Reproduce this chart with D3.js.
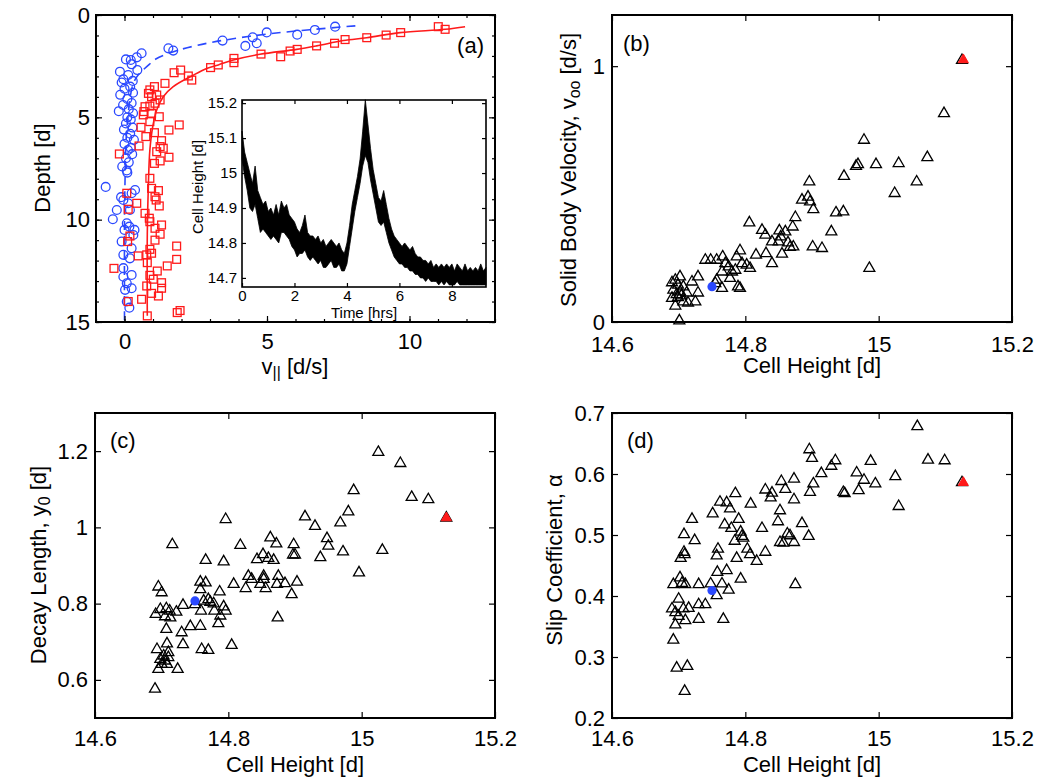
<!DOCTYPE html>
<html>
<head>
<meta charset="utf-8">
<script src="https://cdn.jsdelivr.net/npm/d3@7"></script>
<style>
  body { margin: 0; background: #fff; }
  text { font-family: "Liberation Sans", Arial, Helvetica, sans-serif; fill: #000; }
</style>
</head>
<body>
<div id="chart"></div>
<script>
// ---------- data ----------

// panel (a): velocity profiles, v_|| [d/s] against depth [d]
const blueV = [7.39, 6.68, 6.06, 4.99, 4.50, 4.64, 4.24, 3.44, 1.71, 1.54, 0.60, 0.43, 0.22, 0.05, 0.25, 0.45, -0.16, 0.13, -0.04, 0.29,
  -0.10, 0.20, 0.00, 0.30, -0.15, 0.10, 0.25, -0.05, 0.15, -0.20, 0.30, 0.10, 0.22, 0.05, 0.28, -0.02, 0.20, 0.10, 0.33, 0.00, 0.22, 0.12, 0.27, 0.05, 0.15, -0.08, 0.10,
  -0.66, -0.04, -0.41, -0.27, 0.13, 0.25, 0.19, 0.08, 0.17, 0.31, -0.10, 0.25, -0.04, 0.19, -0.04, 0.25, -0.04, 0.08, 0.25, 0.02, 0.08, 0.17, 0.37, 0.08, -0.12, 0.00, 0.35];
const blueD = [0.57, 0.73, 0.96, 0.85, 1.09, 1.38, 1.51, 1.25, 1.74, 1.63, 1.87, 2.07, 2.20, 2.17, 2.41, 2.69, 2.77, 2.93, 3.14, 3.22,
  3.30, 3.50, 3.60, 3.80, 3.90, 4.10, 4.30, 4.40, 4.60, 4.70, 4.80, 5.00, 5.10, 5.30, 5.50, 5.60, 5.80, 6.00, 6.10, 6.30, 6.50, 6.60, 6.80, 7.00, 7.20, 7.40, 7.70,
  8.40, 9.04, 9.98, 9.53, 9.20, 8.71, 9.53, 10.18, 10.34, 10.75, 11.07, 11.40, 11.72, 11.89, 12.37, 12.70, 12.79, 13.11, 13.35, 13.43, 14.00, 14.30, 8.55, 7.60, 8.90, 10.50, 10.50];

const redV = [11.25, 11.01, 9.69, 9.18, 8.50, 7.74, 7.37, 6.74, 6.06, 5.81, 5.48, 4.79, 3.84, 3.84, 3.29, 3.02, 2.36, 2.24, 1.97, 1.74,
  1.42, 1.05, 0.89, 1.13, 0.95, 0.84, 1.25, 1.07, 0.72, 0.89, 0.68, 0.95, 1.22, 0.66, 0.89, 1.92, 0.58, 1.56, 1.05, 0.75,
  0.51, 1.30, 1.25, 1.13, 1.36, 1.56, 1.25, 1.05, -0.18, 0.89, 0.95, 1.19, 1.07, 0.08, 1.11, 0.43, 1.22, 0.13, 0.72, 0.87,
  0.89, 1.30, 1.07, 1.25, 0.19, 1.07, 0.11, 1.83, 0.89, 0.95, 0.48, 0.78, 1.83, 0.80, -0.37, 1.50, 1.15, 0.89, 1.01, 1.30,
  0.78, 1.30, 0.95, 0.60, 1.19, 0.13, 1.85, 1.95, 0.80];
const redD = [0.70, 0.57, 0.86, 0.98, 1.11, 1.20, 1.38, 1.51, 1.68, 1.76, 2.04, 1.91, 2.33, 2.12, 2.44, 2.57, 3.18, 2.98, 2.69, 2.82,
  3.34, 3.50, 3.66, 3.91, 3.99, 3.83, 4.15, 4.31, 4.48, 4.45, 4.72, 4.80, 4.97, 4.88, 5.21, 5.37, 5.49, 5.62, 5.75, 5.94,
  6.40, 6.14, 6.43, 6.68, 6.51, 6.95, 7.13, 7.25, 6.79, 7.98, 8.47, 8.58, 8.88, 8.71, 9.04, 9.20, 9.33, 9.49, 9.69, 9.93,
  10.10, 10.26, 10.42, 10.71, 10.80, 11.00, 11.07, 11.29, 11.45, 11.64, 11.77, 11.72, 11.94, 12.10, 12.38, 12.26, 12.51, 12.72, 12.91, 13.08,
  13.24, 13.35, 13.60, 13.89, 13.73, 14.00, 14.54, 14.44, 14.70];

// fitted profiles
const blueFitV = [8.10, 6.50, 5.00, 4.00, 3.00, 2.20, 1.60, 1.10, 0.80, 0.50, 0.32, 0.20, 0.12, 0.06, 0.02, 0.00, 0.00];
const blueFitD = [0.53, 0.72, 0.93, 1.12, 1.35, 1.60, 1.85, 2.15, 2.50, 2.90, 3.30, 4.00, 5.00, 6.00, 8.00, 10.00, 15.00];
const redFitV = [11.95, 11.25, 9.67, 8.50, 7.68, 6.74, 6.04, 4.75, 3.82, 3.29, 2.88, 2.36, 1.71, 1.36, 1.13, 0.99, 0.89, 0.84, 0.80, 0.80];
const redFitD = [0.57, 0.70, 0.86, 1.11, 1.25, 1.51, 1.68, 1.92, 2.20, 2.44, 2.61, 2.98, 3.50, 3.99, 4.64, 5.46, 6.60, 8.20, 10.70, 14.70];

// inset: cell height [d] vs time [hrs], envelope of the noisy trace every 0.1 hr
const insetStep = 0.1;
const insetUpper = [15.12, 15.06, 15.03, 15.00, 14.97, 15.02, 14.95, 14.93, 14.91, 14.92,
  14.89, 14.90, 14.88, 14.91, 14.88, 14.92, 14.90, 14.91, 14.88, 14.87,
  14.86, 14.84, 14.83, 14.85, 14.88, 14.83, 14.82, 14.82, 14.81, 14.82,
  14.80, 14.81, 14.79, 14.80, 14.81, 14.80, 14.79, 14.80, 14.78, 14.77,
  14.80, 14.85, 14.91, 14.95, 14.99, 15.04, 15.12, 15.21, 15.14, 15.07,
  15.01, 14.97, 14.93, 14.92, 14.95, 14.91, 14.87, 14.84, 14.82, 14.81,
  14.80, 14.79, 14.80, 14.79, 14.78, 14.79, 14.77, 14.76, 14.76, 14.75,
  14.75, 14.74, 14.75, 14.73, 14.74, 14.73, 14.74, 14.73, 14.74, 14.73,
  14.74, 14.72, 14.74, 14.73, 14.72, 14.74, 14.72, 14.73, 14.72, 14.73,
  14.72, 14.74, 14.72, 14.73];
const insetLower = [15.04, 14.99, 14.95, 14.90, 14.89, 14.91, 14.87, 14.83, 14.84, 14.83,
  14.82, 14.81, 14.82, 14.81, 14.80, 14.83, 14.83, 14.82, 14.81, 14.79,
  14.78, 14.76, 14.77, 14.77, 14.78, 14.76, 14.75, 14.76, 14.75, 14.74,
  14.75, 14.73, 14.73, 14.74, 14.75, 14.73, 14.73, 14.74, 14.72, 14.72,
  14.74, 14.79, 14.84, 14.89, 14.93, 14.97, 15.02, 15.05, 15.03, 14.98,
  14.94, 14.90, 14.86, 14.85, 14.86, 14.83, 14.80, 14.78, 14.76, 14.75,
  14.74, 14.74, 14.73, 14.73, 14.72, 14.72, 14.71, 14.71, 14.70, 14.70,
  14.69, 14.70, 14.69, 14.69, 14.69, 14.68, 14.69, 14.68, 14.69, 14.68,
  14.68, 14.68, 14.69, 14.68, 14.68, 14.68, 14.68, 14.68, 14.68, 14.68,
  14.68, 14.68, 14.68, 14.68];

// panel (b): solid body velocity vs cell height
const heightB = [15.125, 15.098, 14.978, 15.073, 14.969, 14.966, 14.996, 15.030, 15.057, 14.948, 15.024, 14.896, 14.885, 14.894, 14.897, 14.902,
  14.936, 14.947, 14.875, 14.871, 14.929, 14.806, 14.825, 14.830, 14.851, 14.860, 14.853, 14.840, 14.850, 14.864, 14.872, 14.867,
  14.901, 14.915, 14.855, 14.831, 14.816, 14.840, 14.792, 14.787, 14.795, 14.802, 14.807, 14.986, 14.766, 14.770, 14.775, 14.765,
  14.780, 14.785, 14.777, 14.740, 14.748, 14.757, 14.789, 14.792, 14.757, 14.755, 14.765, 14.729, 14.720, 14.702, 14.695, 14.690,
  14.699, 14.707, 14.692, 14.702, 14.712, 14.729, 14.690, 14.699, 14.707, 14.714, 14.725, 14.695, 14.701, 14.697, 14.704];
const velB = [1.023, 0.815, 0.711, 0.643, 0.616, 0.609, 0.616, 0.620, 0.548, 0.570, 0.503, 0.548, 0.477, 0.489, 0.470, 0.440,
  0.427, 0.431, 0.409, 0.372, 0.353, 0.388, 0.359, 0.340, 0.357, 0.353, 0.333, 0.314, 0.314, 0.310, 0.294, 0.292,
  0.294, 0.288, 0.266, 0.268, 0.262, 0.229, 0.279, 0.255, 0.229, 0.223, 0.210, 0.210, 0.255, 0.229, 0.216, 0.196,
  0.196, 0.203, 0.171, 0.242, 0.242, 0.242, 0.138, 0.132, 0.164, 0.151, 0.132, 0.177, 0.157, 0.177, 0.164, 0.154,
  0.145, 0.138, 0.125, 0.118, 0.114, 0.114, 0.093, 0.096, 0.079, 0.075, 0.079, 0.063, 0.005, 0.108, 0.103];

// panel (c): decay length vs cell height
const heightC = [15.127, 15.025, 15.058, 14.988, 15.075, 15.100, 14.980, 14.968, 14.915, 14.930, 14.796, 14.716, 14.818, 14.863, 14.872, 14.898,
  14.897, 14.900, 14.948, 14.950, 14.972, 15.031, 14.938, 14.996, 14.843, 14.852, 14.860, 14.868, 14.766, 14.793, 14.830, 14.835,
  14.826, 14.853, 14.853, 14.848, 14.856, 14.875, 14.873, 14.885, 14.903, 14.895, 14.808, 14.874, 14.758, 14.766, 14.758, 14.787,
  14.750, 14.770, 14.773, 14.778, 14.763, 14.759, 14.779, 14.793, 14.796, 14.788, 14.785, 14.695, 14.700, 14.698, 14.691, 14.707,
  14.712, 14.722, 14.732, 14.705, 14.713, 14.743, 14.758, 14.707, 14.730, 14.732, 14.708, 14.693, 14.710, 14.703, 14.698, 14.705,
  14.710, 14.700, 14.708, 14.695, 14.724, 14.690, 14.760, 14.770, 14.805];
const decayC = [1.025, 1.197, 1.168, 1.097, 1.079, 1.073, 1.041, 1.012, 1.028, 1.003, 1.021, 0.955, 0.953, 0.973, 0.957, 0.955,
  0.928, 0.928, 0.971, 0.951, 0.936, 0.940, 0.921, 0.881, 0.916, 0.929, 0.919, 0.914, 0.914, 0.910, 0.872, 0.864,
  0.840, 0.872, 0.864, 0.851, 0.840, 0.872, 0.851, 0.853, 0.857, 0.824, 0.851, 0.763, 0.857, 0.855, 0.837, 0.831,
  0.798, 0.811, 0.804, 0.800, 0.807, 0.781, 0.781, 0.792, 0.781, 0.768, 0.748, 0.844, 0.829, 0.785, 0.772, 0.787,
  0.781, 0.778, 0.796, 0.766, 0.763, 0.740, 0.741, 0.733, 0.724, 0.693, 0.695, 0.680, 0.672, 0.663, 0.654, 0.650,
  0.659, 0.641, 0.641, 0.628, 0.628, 0.576, 0.680, 0.678, 0.691];

// panel (d): slip coefficient vs cell height
const heightD = [15.125, 15.058, 15.074, 15.099, 15.025, 15.030, 14.988, 14.967, 14.978, 14.995, 14.970, 14.947, 14.949, 14.935, 14.929, 14.914,
  14.902, 14.896, 14.900, 14.897, 14.873, 14.854, 14.860, 14.873, 14.830, 14.840, 14.838, 14.852, 14.849, 14.885, 14.895, 14.825,
  14.863, 14.867, 14.852, 14.857, 14.873, 14.830, 14.875, 14.808, 14.785, 14.762, 14.772, 14.777, 14.751, 14.790, 14.769, 14.779,
  14.793, 14.795, 14.784, 14.797, 14.803, 14.807, 14.817, 14.759, 14.757, 14.787, 14.772, 14.758, 14.793, 14.748, 14.765, 14.775,
  14.757, 14.767, 14.720, 14.708, 14.724, 14.708, 14.709, 14.703, 14.702, 14.692, 14.705, 14.710, 14.730, 14.700, 14.690, 14.695,
  14.707, 14.715, 14.730, 14.740, 14.700, 14.695, 14.710, 14.730, 14.692, 14.697, 14.713, 14.709];
const slipD = [0.586, 0.678, 0.623, 0.622, 0.596, 0.547, 0.621, 0.602, 0.590, 0.584, 0.573, 0.570, 0.568, 0.622, 0.613, 0.601,
  0.584, 0.640, 0.626, 0.570, 0.592, 0.588, 0.575, 0.558, 0.574, 0.569, 0.561, 0.540, 0.522, 0.519, 0.498, 0.511,
  0.502, 0.499, 0.488, 0.487, 0.488, 0.472, 0.419, 0.551, 0.568, 0.554, 0.553, 0.543, 0.535, 0.526, 0.517, 0.511,
  0.505, 0.498, 0.490, 0.495, 0.477, 0.468, 0.457, 0.477, 0.466, 0.462, 0.442, 0.439, 0.428, 0.420, 0.420, 0.410,
  0.401, 0.362, 0.526, 0.501, 0.491, 0.472, 0.468, 0.462, 0.430, 0.419, 0.421, 0.419, 0.419, 0.395, 0.379, 0.373,
  0.379, 0.380, 0.386, 0.386, 0.367, 0.353, 0.360, 0.362, 0.328, 0.282, 0.285, 0.244];

// highlighted runs (blue = small cell height, red = large cell height)
const blueRun = { height: 14.750, vel: 0.138, decay: 0.807, slip: 0.409 };
const redRun = { height: 15.127, vel: 1.025, decay: 1.025, slip: 0.586 };

// tick values
const ticksAX = [0, 5, 10], ticksAY = [0, 5, 10, 15];
const minorAX = d3.range(-1, 14), minorAY = d3.range(0, 16);
const ticksInsetX = [0, 2, 4, 6, 8], ticksInsetY = [14.7, 14.8, 14.9, 15, 15.1, 15.2];
const ticksHeight = [14.6, 14.8, 15, 15.2];
const ticksB = [0, 1], ticksC = [0.6, 0.8, 1, 1.2], ticksD = [0.2, 0.3, 0.4, 0.5, 0.6, 0.7];

// ---------- layout ----------
const W = 1038, H = 777;
const BLUE = "#2a48ff", RED = "#ff1a1a";
const FONT = "Liberation Sans, Arial, Helvetica, sans-serif";

const svg = d3.select("#chart").append("svg")
    .attr("width", W)
    .attr("height", H);
svg.append("rect").attr("width", W).attr("height", H).attr("fill", "#fff");

// Draw inward ticks on all 4 sides plus a box
function frame(x, y, opt) {
    const g = svg.append("g");
    const xl = d3.min(x.range()), xr = d3.max(x.range());
    const yb = d3.max(y.range()), yt = d3.min(y.range());
    const tl = opt.tick || 6;

    g.append("g")
        .attr("transform", `translate(0,${yb})`)
        .call(d3.axisBottom(x).tickValues(opt.xt).tickSizeInner(-tl).tickSizeOuter(0).tickPadding(opt.padX).tickFormat(d3.format("")))
        .call(a => a.select(".domain").remove())
        .attr("font-family", FONT).attr("font-size", opt.fs);
    g.append("g")
        .attr("transform", `translate(0,${yt})`)
        .call(d3.axisTop(x).tickValues(opt.xt).tickSizeInner(-tl).tickSizeOuter(0).tickFormat(""))
        .call(a => a.select(".domain").remove());
    g.append("g")
        .attr("transform", `translate(${xl},0)`)
        .call(d3.axisLeft(y).tickValues(opt.yt).tickSizeInner(-tl).tickSizeOuter(0).tickPadding(opt.padY).tickFormat(d3.format("")))
        .call(a => a.select(".domain").remove())
        .attr("font-family", FONT).attr("font-size", opt.fs);
    g.append("g")
        .attr("transform", `translate(${xr},0)`)
        .call(d3.axisRight(y).tickValues(opt.yt).tickSizeInner(-tl).tickSizeOuter(0).tickFormat(""))
        .call(a => a.select(".domain").remove());

    // minor ticks (only panel a)
    if (opt.mx) {
        [[yb, d3.axisBottom], [yt, d3.axisTop]].forEach(([p, ax]) => {
            g.append("g").attr("transform", `translate(0,${p})`)
                .call(ax(x).tickValues(opt.mx).tickSizeInner(-3).tickSizeOuter(0).tickFormat(""))
                .call(a => a.select(".domain").remove());
        });
        [[xl, d3.axisLeft], [xr, d3.axisRight]].forEach(([p, ax]) => {
            g.append("g").attr("transform", `translate(${p},0)`)
                .call(ax(y).tickValues(opt.my).tickSizeInner(-3).tickSizeOuter(0).tickFormat(""))
                .call(a => a.select(".domain").remove());
        });
    }
    g.selectAll(".tick line").attr("stroke", "#000").attr("stroke-width", 1.2);

    g.append("rect")
        .attr("x", xl).attr("y", yt)
        .attr("width", xr - xl).attr("height", yb - yt)
        .attr("fill", "none").attr("stroke", "#000").attr("stroke-width", opt.box || 2);
    return g;
}

// label with a subscript part
function label(x, y, rot, parts, fs) {
    const t = svg.append("text")
        .attr("transform", `translate(${x},${y}) rotate(${rot})`)
        .attr("text-anchor", "middle")
        .attr("font-size", fs);
    parts.forEach(p => {
        const s = t.append("tspan").text(p.t);
        if (p.sub) s.attr("font-size", fs * 0.72).attr("baseline-shift", "-28%");
    });
    return t;
}

// ---------- panel (a) ----------
const xA = d3.scaleLinear().domain([-1, 13]).range([96, 495]);
const yA = d3.scaleLinear().domain([0, 15]).range([15, 322]);

const line = d3.line().curve(d3.curveCatmullRom);

svg.append("path")
    .attr("d", line(blueFitV.map((v, i) => [xA(v), yA(blueFitD[i])])))
    .attr("fill", "none").attr("stroke", BLUE).attr("stroke-width", 1.6)
    .attr("stroke-dasharray", "9,6");
svg.append("path")
    .attr("d", line(redFitV.map((v, i) => [xA(v), yA(redFitD[i])])))
    .attr("fill", "none").attr("stroke", RED).attr("stroke-width", 1.6);

svg.append("g").selectAll("circle")
    .data(blueV.map((v, i) => [v, blueD[i]]))
    .enter().append("circle")
    .attr("cx", d => xA(d[0])).attr("cy", d => yA(d[1])).attr("r", 4.4)
    .attr("fill", "none").attr("stroke", BLUE).attr("stroke-width", 1.3);

svg.append("g").selectAll("rect")
    .data(redV.map((v, i) => [v, redD[i]]))
    .enter().append("rect")
    .attr("x", d => xA(d[0]) - 3.9).attr("y", d => yA(d[1]) - 3.9)
    .attr("width", 7.8).attr("height", 7.8)
    .attr("fill", "none").attr("stroke", RED).attr("stroke-width", 1.3);

frame(xA, yA, { xt: ticksAX, yt: ticksAY, mx: minorAX, my: minorAY, fs: 22, padX: 11, padY: 6 });
label(295, 374, 0, [{ t: "v" }, { t: "||", sub: true }, { t: " [d/s]" }], 22);
label(50, 168, -90, [{ t: "Depth [d]" }], 22);
svg.append("text").attr("x", 484).attr("y", 53).attr("text-anchor", "end").attr("font-size", 22).text("(a)");

// inset
const xI = d3.scaleLinear().domain([0, 9.3]).range([242, 486]);
const yI = d3.scaleLinear().domain([14.674, 15.209]).range([287, 100]);
svg.append("rect").attr("x", 242).attr("y", 100).attr("width", 244).attr("height", 187).attr("fill", "#fff");

const band = d3.area()
    .x((d, i) => xI(i * insetStep))
    .y0((d, i) => yI(insetLower[i]))
    .y1(d => yI(d));
svg.append("path")
    .attr("d", band(insetUpper))
    .attr("fill", "#000").attr("stroke", "#000").attr("stroke-width", 0.8)
    .attr("stroke-linejoin", "miter");

frame(xI, yI, { xt: ticksInsetX, yt: ticksInsetY, fs: 15, padX: 3, padY: 5, tick: 4, box: 1.6 });
label(364, 318, 0, [{ t: "Time [hrs]" }], 15);
label(203, 187, -90, [{ t: "Cell Height [d]" }], 15);

// ---------- scatter panels ----------
const tri = d3.symbol(d3.symbolTriangle, 52);
const triFill = d3.symbol(d3.symbolTriangle, 44);

function scatter(x, y, hs, vs, key) {
    const g = svg.append("g");
    g.selectAll("path")
        .data(hs.map((h, i) => [h, vs[i]]))
        .enter().append("path")
        .attr("d", tri)
        .attr("transform", d => `translate(${x(d[0])},${y(d[1])})`)
        .attr("fill", "none").attr("stroke", "#000").attr("stroke-width", 1.3);
    g.append("path")
        .attr("d", triFill)
        .attr("transform", `translate(${x(redRun.height)},${y(redRun[key])})`)
        .attr("fill", RED).attr("stroke", RED).attr("stroke-width", 1);
    g.append("circle")
        .attr("cx", x(blueRun.height)).attr("cy", y(blueRun[key])).attr("r", 4.6)
        .attr("fill", BLUE);
}

// panel (b)
const xB = d3.scaleLinear().domain([14.6, 15.2]).range([612, 1012]);
const yB = d3.scaleLinear().domain([0, 1.2]).range([322, 15]);
scatter(xB, yB, heightB, velB, "vel");
frame(xB, yB, { xt: ticksHeight, yt: ticksB, fs: 22, padX: 14, padY: 7 });
label(812, 373, 0, [{ t: "Cell Height [d]" }], 22);
label(576, 170, -90, [{ t: "Solid Body Velocity, v" }, { t: "oo", sub: true }, { t: " [d/s]" }], 22);
svg.append("text").attr("x", 623).attr("y", 51).attr("font-size", 22).text("(b)");

// panel (c)
const xC = d3.scaleLinear().domain([14.6, 15.2]).range([95, 495]);
const yC = d3.scaleLinear().domain([0.5, 1.3]).range([718, 413]);
scatter(xC, yC, heightC, decayC, "decay");
frame(xC, yC, { xt: ticksHeight, yt: ticksC, fs: 22, padX: 12, padY: 7 });
label(295, 772, 0, [{ t: "Cell Height [d]" }], 22);
label(46, 565, -90, [{ t: "Decay Length, y" }, { t: "0", sub: true }, { t: " [d]" }], 22);
svg.append("text").attr("x", 110).attr("y", 448).attr("font-size", 22).text("(c)");

// panel (d)
const xD = d3.scaleLinear().domain([14.6, 15.2]).range([612, 1012]);
const yD = d3.scaleLinear().domain([0.2, 0.7]).range([718, 413]);
scatter(xD, yD, heightD, slipD, "slip");
frame(xD, yD, { xt: ticksHeight, yt: ticksD, fs: 22, padX: 12, padY: 7 });
label(812, 772, 0, [{ t: "Cell Height [d]" }], 22);
label(562, 560, -90, [{ t: "Slip Coefficient, α" }], 22);
svg.append("text").attr("x", 627).attr("y", 448).attr("font-size", 22).text("(d)");
</script>
</body>
</html>
